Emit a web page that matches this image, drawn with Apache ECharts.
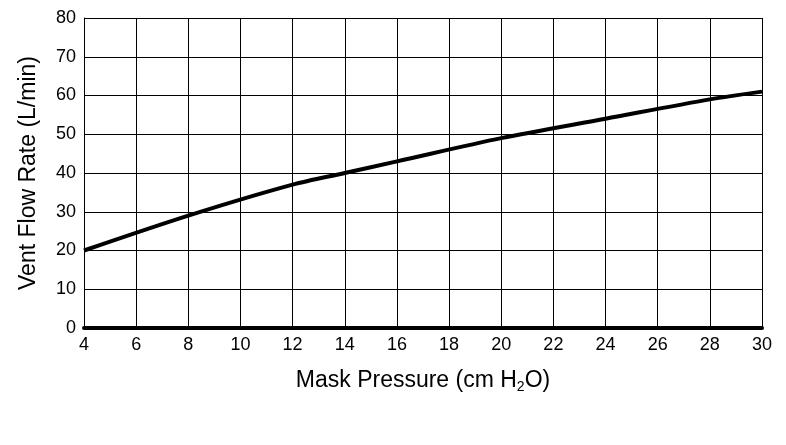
<!DOCTYPE html>
<html>
<head>
<meta charset="UTF-8">
<script src="https://cdn.jsdelivr.net/npm/echarts@6/dist/echarts.min.js"></script>
<style>html,body{margin:0;background:#fff}#chart{width:786px;height:445px}</style>
</head>
<body>
<div id="chart"></div>
<script>
var pressure = [4, 8, 12, 14, 16, 20, 24, 28, 30];
var flow = [20, 29, 37, 40, 43, 49, 54, 59, 61];

var chart = echarts.init(document.getElementById('chart'));
var font = 'Liberation Sans';
chart.setOption({
    animation: false,
    grid: {left: 84, right: 24, top: 18, bottom: 117},
    xAxis: {
        type: 'value', min: 4, max: 30, interval: 2,
        name: '{a|Mask Pressure (cm H}{s|2}{a|O)}',
        nameLocation: 'middle', nameGap: 40,
        nameTextStyle: {rich: {
            a: {fontSize: 23, color: '#000', fontFamily: font},
            s: {fontSize: 14, color: '#000', fontFamily: font, padding: [12, 0, 0, 0]}
        }},
        axisLine: {lineStyle: {color: '#000', width: 4}},
        axisTick: {show: false},
        axisLabel: {color: '#000', fontSize: 18, fontFamily: font, margin: 8},
        splitLine: {lineStyle: {color: '#000', width: 1}}
    },
    yAxis: {
        type: 'value', min: 0, max: 80, interval: 10,
        name: 'Vent Flow Rate (L/min)',
        nameLocation: 'middle', nameGap: 44,
        nameTextStyle: {fontSize: 23, color: '#000', fontFamily: font},
        axisLine: {show: true, lineStyle: {color: '#000', width: 1}},
        axisTick: {show: false},
        axisLabel: {color: '#000', fontSize: 18, fontFamily: font, margin: 8},
        splitLine: {lineStyle: {color: '#000', width: 1}}
    },
    series: [{
        type: 'line',
        data: pressure.map(function (p, i) { return [p, flow[i]]; }),
        smooth: 0.3,
        symbol: 'none',
        lineStyle: {color: '#000', width: 4}
    }]
});
</script>
</body>
</html>
